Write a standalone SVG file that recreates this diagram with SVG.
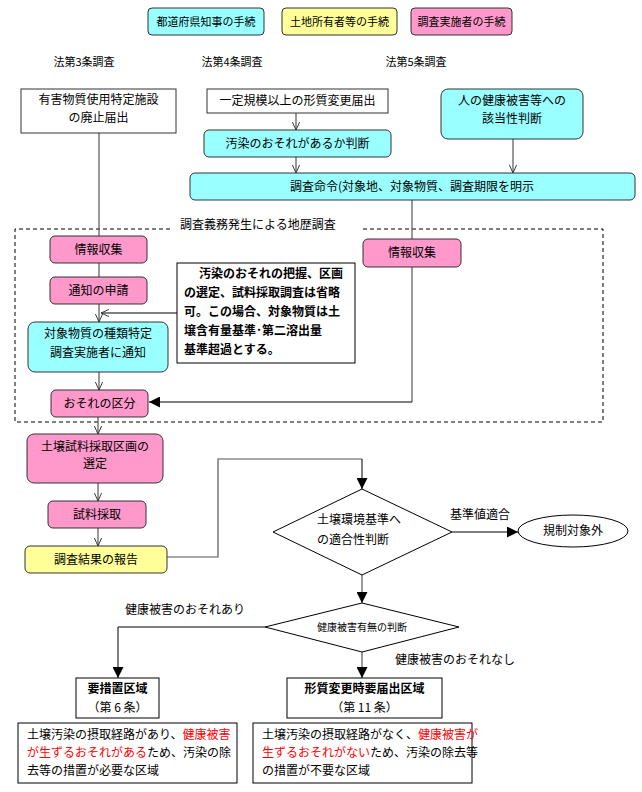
<svg xmlns="http://www.w3.org/2000/svg" width="642" height="792" viewBox="0 0 642 792">
<style>
text{font-family:"Noto Sans CJK JP","Noto Sans CJK SC",sans-serif;font-size:12px;fill:#000}
.c{text-anchor:middle}
.s11{font-size:11px}
.s10{font-size:10px}
.b{font-weight:bold}
.red{fill:#ff0000}
.box{stroke:#333;stroke-width:1}
.cy{fill:#99ffff}
.ye{fill:#ffff99}
.pk{fill:#ff99cc}
.wh{fill:#fff}
.ln{fill:none;stroke:#555;stroke-width:1.2}
.lk{fill:none;stroke:#000;stroke-width:1}
</style>
<defs>
<marker id="oa" viewBox="0 0 10 10" refX="10" refY="5" markerWidth="8" markerHeight="8" markerUnits="userSpaceOnUse" orient="auto"><path d="M0,0.5 L10,5 L0,9.5" fill="none" stroke="#333" stroke-width="1.2"/></marker>
<marker id="fa" viewBox="0 0 10 10" refX="10" refY="5" markerWidth="11" markerHeight="11" markerUnits="userSpaceOnUse" orient="auto"><path d="M0,0 L10,5 L0,10 z" fill="#000"/></marker>
</defs>
<rect width="642" height="792" fill="#fff"/>

<g id="legend">
<rect class="box cy" x="148" y="8" width="116" height="27" rx="4"/><text class="c s11" x="206" y="26">都道府県知事の手続</text>
<rect class="box ye" x="282" y="8" width="115" height="27" rx="4"/><text class="c s11" x="339.5" y="26">土地所有者等の手続</text>
<rect class="box pk" x="411" y="8" width="101" height="27" rx="4"/><text class="c s11" x="461.5" y="26">調査実施者の手続</text>
</g>
<g id="headers">
<text class="c s11" x="84" y="66">法第3条調査</text>
<text class="c s11" x="232" y="66">法第4条調査</text>
<text class="c s11" x="416" y="66">法第5条調査</text>
</g>

<g id="dashed-area">
<path d="M170,229 L15,229 L15,422 L603,422 L603,229 L362,229" fill="none" stroke="#000" stroke-width="1" stroke-dasharray="4,3"/>
<text x="180" y="229">調査義務発生による地歴調査</text>
</g>

<g id="connectors">
<path class="ln" d="M296,113 L296,130" marker-end="url(#oa)"/>
<path class="ln" d="M296,157 L296,173" marker-end="url(#oa)"/>
<path class="ln" d="M513,139 L513,173" marker-end="url(#oa)"/>
<path class="ln" d="M99,133 L99,236"/>
<path class="ln" d="M99,263 L99,277"/>
<path class="ln" d="M99,304 L99,322" marker-end="url(#oa)"/>
<path class="ln" d="M99,372 L99,390" marker-end="url(#oa)"/>
<path class="ln" d="M98,417 L98,434" marker-end="url(#oa)"/>
<path class="ln" d="M98,483 L98,501" marker-end="url(#oa)"/>
<path class="ln" d="M98,528 L98,546" marker-end="url(#oa)"/>
<path class="lk" d="M177,313 L101,313" marker-end="url(#oa)"/>
<path class="ln" d="M412,200 L412,402"/>
<path class="lk" d="M412,402 L149,402" marker-end="url(#fa)"/>
<path class="ln" d="M167,557 L218,557 L218,459 L362,459"/>
<path class="lk" d="M362,459 L362,489" marker-end="url(#fa)"/>
<path class="lk" d="M452,532 L518,532" marker-end="url(#fa)"/>
<path class="ln" d="M362,575 L362,603" marker-end="url(#fa)"/>
<path class="lk" d="M265,627 L118,627 L118,678" marker-end="url(#fa)"/>
<path class="ln" d="M362,652 L362,678" marker-end="url(#fa)"/>
<text class="c" x="480" y="519">基準値適合</text>
<text class="c" x="185" y="614">健康被害のおそれあり</text>
<text class="c" x="455" y="664">健康被害のおそれなし</text>
</g>

<g id="n-haishi"><rect class="box wh" x="21" y="89" width="155" height="44"/><text class="c" x="98.5" y="104">有害物質使用特定施設</text><text class="c" x="98.5" y="122">の廃止届出</text></g>
<g id="n-keishitsu"><rect class="box wh" x="207" y="89" width="181" height="24"/><text class="c" x="297.5" y="105">一定規模以上の形質変更届出</text></g>
<g id="n-osore-handan"><rect class="box cy" x="204" y="130" width="187" height="27" rx="5"/><text class="c" x="297.5" y="148">汚染のおそれがあるか判断</text></g>
<g id="n-kenkou"><rect class="box cy" x="441" y="89" width="142" height="50" rx="7"/><text class="c" x="512" y="105">人の健康被害等への</text><text class="c" x="512" y="123">該当性判断</text></g>
<g id="n-meirei"><rect class="box cy" x="190" y="173" width="445" height="27" rx="5"/><text x="290" y="191">調査命令(対象地、対象物質、調査期限を明示</text></g>

<g id="n-joho1"><rect class="box pk" x="50" y="236" width="97" height="27" rx="5"/><text class="c" x="98.5" y="254">情報収集</text></g>
<g id="n-tsuchi"><rect class="box pk" x="50" y="277" width="97" height="27" rx="5"/><text class="c" x="98.5" y="295">通知の申請</text></g>
<g id="n-taisho"><rect class="box cy" x="28" y="322" width="140" height="50" rx="7"/><text class="c" x="98" y="338">対象物質の種類特定</text><text class="c" x="98" y="357">調査実施者に通知</text></g>
<g id="n-kubun"><rect class="box pk" x="51" y="390" width="97" height="27" rx="5"/><text class="c" x="99.5" y="408">おそれの区分</text></g>
<g id="n-callout"><rect x="177" y="263" width="178" height="100" fill="#fff" stroke="#000" stroke-width="1"/>
<text class="b"><tspan x="199" y="278">汚染のおそれの把握、区画</tspan><tspan x="184" y="297">の選定、試料採取調査は省略</tspan><tspan x="184" y="316">可。この場合、対象物質は土</tspan><tspan x="184" y="335">壌含有量基準･第二溶出量</tspan><tspan x="184" y="354">基準超過とする。</tspan></text></g>
<g id="n-joho2"><rect class="box pk" x="363" y="239" width="98" height="28" rx="5"/><text class="c" x="412" y="257">情報収集</text></g>

<g id="n-kukaku"><rect class="box pk" x="27" y="434" width="136" height="49" rx="7"/><text class="c" x="95" y="451">土壌試料採取区画の</text><text class="c" x="95" y="468">選定</text></g>
<g id="n-saishu"><rect class="box pk" x="48" y="501" width="98" height="27" rx="5"/><text class="c" x="97" y="519">試料採取</text></g>
<g id="n-hokoku"><rect class="box ye" x="25" y="546" width="142" height="27" rx="5"/><text class="c" x="96" y="564">調査結果の報告</text></g>

<g id="n-tekigo"><polygon points="362,489 452,532 362,575 273,532" fill="#fff" stroke="#000" stroke-width="1"/><text x="317" y="524">土壌環境基準へ</text><text x="317" y="544">の適合性判断</text></g>
<g id="n-kisei"><ellipse cx="573" cy="531" rx="55" ry="16" fill="#fff" stroke="#000" stroke-width="1"/><text class="c" x="573" y="535">規制対象外</text></g>
<g id="n-umu"><polygon points="362,603 459,627 362,652 265,627" fill="#fff" stroke="#000" stroke-width="1"/><text class="c s10" x="362" y="631">健康被害有無の判断</text></g>

<g id="n-yosochi"><rect x="76" y="678" width="83" height="40" fill="#fff" stroke="#000"/><text class="c b" x="117.5" y="693">要措置区域</text><text class="c" x="117.5" y="712">（第 6 条）</text></g>
<g id="n-todokede"><rect x="287" y="678" width="155" height="40" fill="#fff" stroke="#000"/><text class="c b" x="364.5" y="693">形質変更時要届出区域</text><text class="c" x="364.5" y="712">（第 11 条）</text></g>

<g id="n-desc1"><rect x="18" y="723" width="219" height="60" fill="#fff" stroke="#000"/>
<text x="27" y="739">土壌汚染の摂取経路があり、<tspan class="red">健康被害</tspan></text>
<text x="27" y="757"><tspan class="red">が生ずるおそれがある</tspan>ため、汚染の除</text>
<text x="27" y="775">去等の措置が必要な区域</text></g>
<g id="n-desc2"><rect x="253" y="723" width="219" height="60" fill="#fff" stroke="#000"/>
<text x="262" y="739">土壌汚染の摂取経路がなく、<tspan class="red">健康被害が</tspan></text>
<text x="262" y="757"><tspan class="red">生ずるおそれがない</tspan>ため、汚染の除去等</text>
<text x="262" y="775">の措置が不要な区域</text></g>
</svg>
